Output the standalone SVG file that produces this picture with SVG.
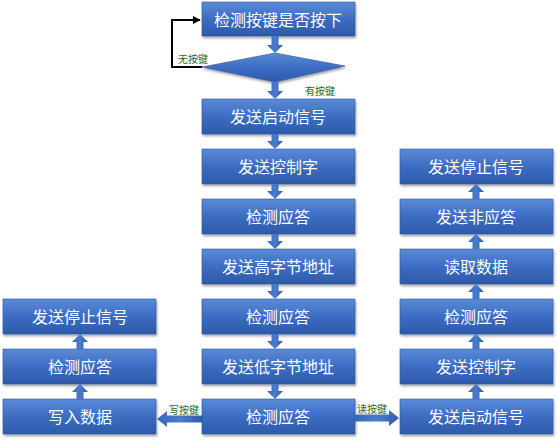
<svg xmlns="http://www.w3.org/2000/svg" width="558" height="443" viewBox="0 0 558 443">
<defs>
<linearGradient id="g" x1="0" y1="0" x2="0" y2="1">
<stop offset="0" stop-color="#5a8bd8"/>
<stop offset="0.5" stop-color="#3c6dc2"/>
<stop offset="1" stop-color="#2d5aa9"/>
</linearGradient>
<linearGradient id="ga" x1="0" y1="0" x2="1" y2="0">
<stop offset="0" stop-color="#3a68b8"/>
<stop offset="0.5" stop-color="#4a7bcc"/>
<stop offset="1" stop-color="#2f5ca9"/>
</linearGradient>
<filter id="sh" x="-10%" y="-20%" width="120%" height="150%">
<feDropShadow dx="1" dy="2" stdDeviation="1.2" flood-color="#000" flood-opacity="0.35"/>
</filter>
<marker id="ah" viewBox="0 0 10 10" refX="9" refY="5" markerWidth="4" markerHeight="4" orient="auto">
<path d="M0 0 L10 5 L0 10 Z" fill="#000"/>
</marker>
</defs>
<style>
.box{fill:url(#g);stroke:#2a55a0;stroke-width:0.6;filter:url(#sh)}
.t{font-family:"Noto Sans CJK SC","Noto Sans",sans-serif;font-size:16px;fill:#fff;text-anchor:middle;dominant-baseline:central}
.lbl{font-family:"Noto Sans CJK SC","Noto Sans",sans-serif;font-size:10px;fill:#1f6b1f;text-anchor:middle;dominant-baseline:central}
.arr{fill:url(#ga)}
.loop{fill:none;stroke:#000;stroke-width:2}
</style>

<g id="n0"><rect class="box" x="202" y="2" width="153" height="34"/><text class="t" x="278" y="19">检测按键是否按下</text></g>
<g id="d0"><polygon class="box" points="202,67 275,53 345,66 275,82"/></g>
<g id="n1"><rect class="box" x="202" y="99" width="153" height="35"/><text class="t" x="278" y="116">发送启动信号</text></g>
<g id="n2"><rect class="box" x="202" y="149" width="153" height="35"/><text class="t" x="278" y="166">发送控制字</text></g>
<g id="n3"><rect class="box" x="202" y="199" width="153" height="35"/><text class="t" x="278" y="216">检测应答</text></g>
<g id="n4"><rect class="box" x="202" y="249" width="153" height="35"/><text class="t" x="278" y="266">发送高字节地址</text></g>
<g id="n5"><rect class="box" x="202" y="299" width="153" height="35"/><text class="t" x="278" y="316">检测应答</text></g>
<g id="n6"><rect class="box" x="202" y="349" width="153" height="35"/><text class="t" x="278" y="366">发送低字节地址</text></g>
<g id="n7"><rect class="box" x="202" y="399" width="153" height="35"/><text class="t" x="278" y="416">检测应答</text></g>

<g id="l0"><rect class="box" x="3" y="399" width="153" height="35"/><text class="t" x="80" y="416">写入数据</text></g>
<g id="l1"><rect class="box" x="3" y="349" width="153" height="35"/><text class="t" x="80" y="366">检测应答</text></g>
<g id="l2"><rect class="box" x="3" y="299" width="153" height="35"/><text class="t" x="80" y="316">发送停止信号</text></g>

<g id="r0"><rect class="box" x="400" y="399" width="153" height="35"/><text class="t" x="476" y="416">发送启动信号</text></g>
<g id="r1"><rect class="box" x="400" y="349" width="153" height="35"/><text class="t" x="476" y="366">发送控制字</text></g>
<g id="r2"><rect class="box" x="400" y="299" width="153" height="35"/><text class="t" x="476" y="316">检测应答</text></g>
<g id="r3"><rect class="box" x="400" y="249" width="153" height="35"/><text class="t" x="476" y="266">读取数据</text></g>
<g id="r4"><rect class="box" x="400" y="199" width="153" height="35"/><text class="t" x="476" y="216">发送非应答</text></g>
<g id="r5"><rect class="box" x="400" y="149" width="153" height="35"/><text class="t" x="476" y="166">发送停止信号</text></g>

<g id="connectors">
<path class="loop" d="M202 67 H172 V20 H200" marker-end="url(#ah)"/>
<path class="arr" d="M271.5 36 H278.5 V45 H283 L275 53 L267 45 H271.5 Z"/>
<path class="arr" d="M271.5 82 H278.5 V91 H283 L275 99 L267 91 H271.5 Z"/>
<path class="arr" d="M271.5 134 H278.5 V141 H283 L275 149 L267 141 H271.5 Z"/>
<path class="arr" d="M271.5 184 H278.5 V191 H283 L275 199 L267 191 H271.5 Z"/>
<path class="arr" d="M271.5 234 H278.5 V241 H283 L275 249 L267 241 H271.5 Z"/>
<path class="arr" d="M271.5 284 H278.5 V291 H283 L275 299 L267 291 H271.5 Z"/>
<path class="arr" d="M271.5 334 H278.5 V341 H283 L275 349 L267 341 H271.5 Z"/>
<path class="arr" d="M271.5 384 H278.5 V391 H283 L275 399 L267 391 H271.5 Z"/>

<path class="arr" d="M76.5 399 H83.5 V392 H88 L80 384 L72 392 H76.5 Z"/>
<path class="arr" d="M76.5 349 H83.5 V342 H88 L80 334 L72 342 H76.5 Z"/>

<path class="arr" d="M472.5 399 H479.5 V392 H484 L476 384 L468 392 H472.5 Z"/>
<path class="arr" d="M472.5 349 H479.5 V342 H484 L476 334 L468 342 H472.5 Z"/>
<path class="arr" d="M472.5 299 H479.5 V292 H484 L476 284 L468 292 H472.5 Z"/>
<path class="arr" d="M472.5 249 H479.5 V242 H484 L476 234 L468 242 H472.5 Z"/>
<path class="arr" d="M472.5 199 H479.5 V192 H484 L476 184 L468 192 H472.5 Z"/>

<path class="arr" d="M202 415.5 V422.5 H167 V427 L157 419 L167 411 V415.5 Z"/>
<path class="arr" d="M355 414.5 V421.5 H389 V426 L399 418 L389 410 V414.5 Z"/>

<text class="lbl" x="193" y="58">无按键</text>
<text class="lbl" x="320" y="90">有按键</text>
<text class="lbl" x="184" y="409">写按键</text>
<text class="lbl" x="372" y="408">读按键</text>
</g>
</svg>
